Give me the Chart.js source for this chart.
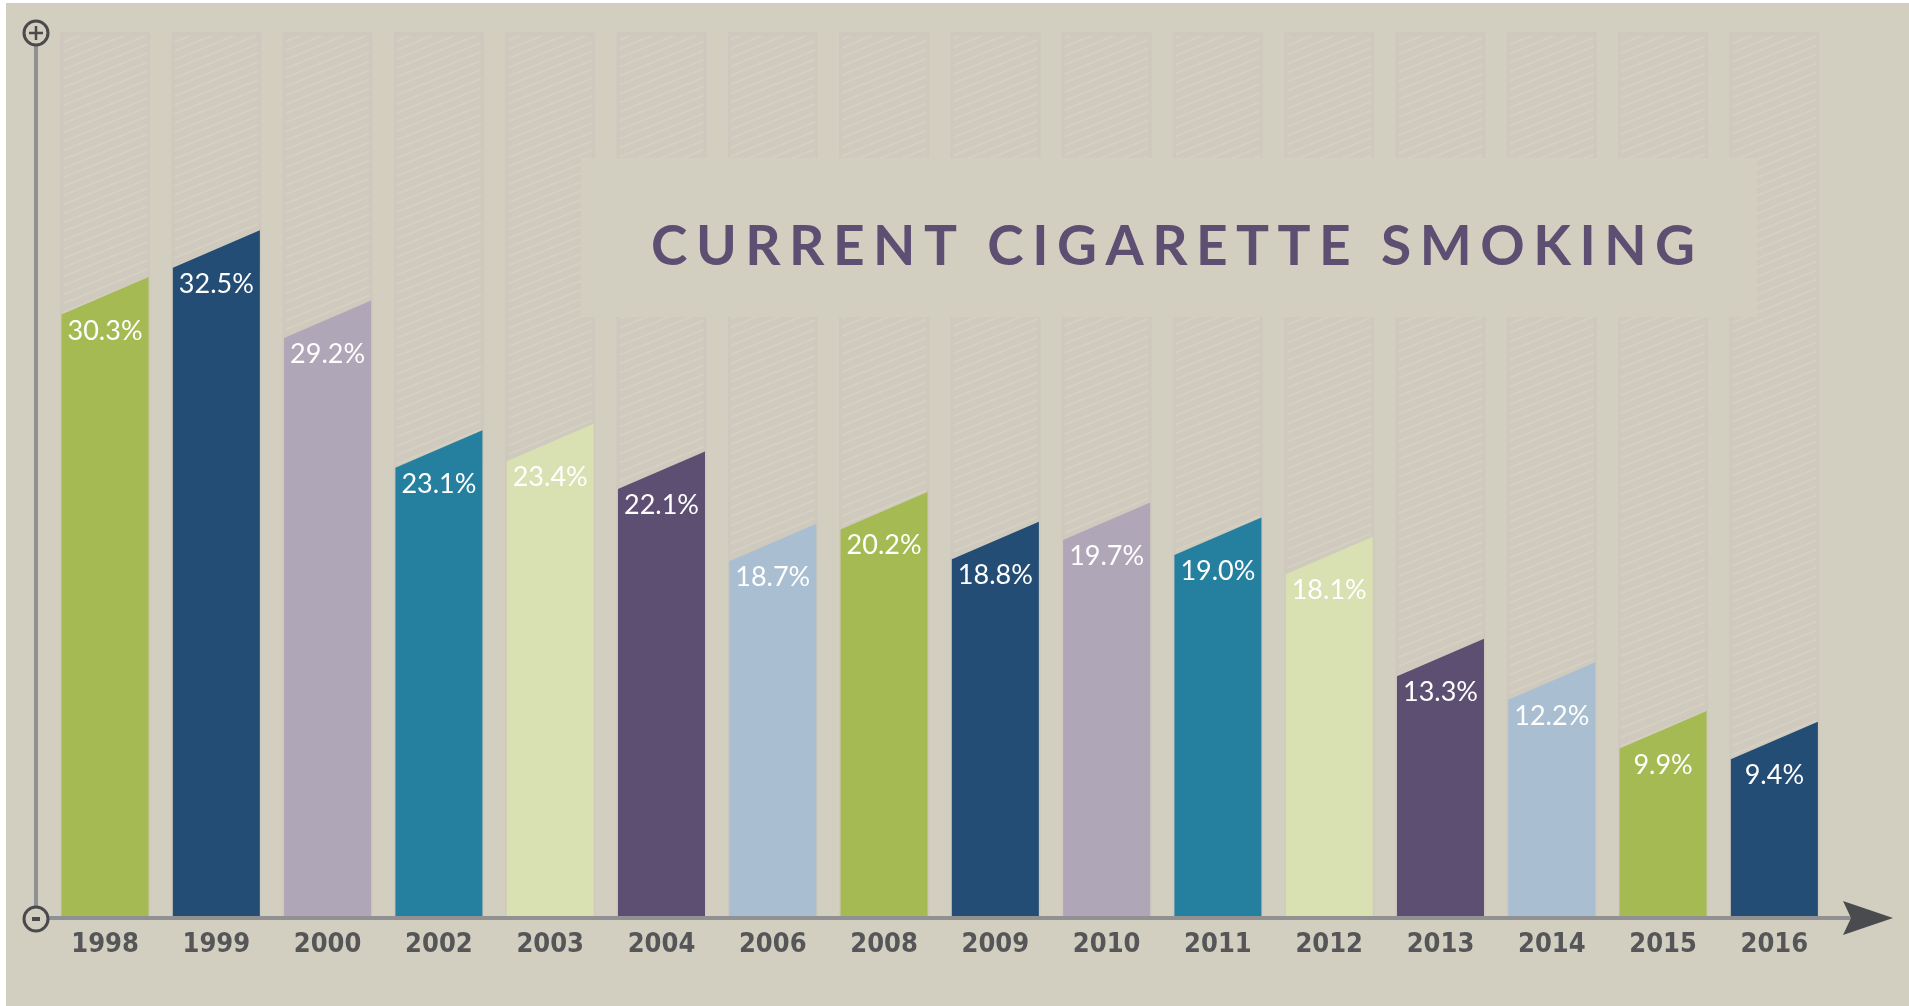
<!DOCTYPE html>
<html>
<head>
<meta charset="utf-8">
<title>Current Cigarette Smoking</title>
<script src="https://cdn.jsdelivr.net/npm/chart.js@4.4.1/dist/chart.umd.min.js"></script>
<style>
  html, body { margin: 0; padding: 0; background: #fff; overflow: hidden; }
  #wrap { position: absolute; left: 6px; top: 3px; width: 1903px; height: 1003px; background: #D2CEC0; }
</style>
</head>
<body>
<div id="wrap"><canvas id="smoking"></canvas></div>
<script>
const years = ['1998', '1999', '2000', '2002', '2003', '2004', '2006', '2008',
               '2009', '2010', '2011', '2012', '2013', '2014', '2015', '2016']
const rates = [30.3, 32.5, 29.2, 23.1, 23.4, 22.1, 18.7, 20.2,
               18.8, 19.7, 19.0, 18.1, 13.3, 12.2, 9.9, 9.4]
const palette = ['#A6BA53', '#234D74', '#AFA6B8', '#25809F', '#D9E0B2', '#5C4F72', '#A9BED0']
const title = 'CURRENT CIGARETTE SMOKING'

const yMin = 1.15
const yMax = 42.7
const bg = '#D2CEC0'
const slant = 18.75   // half the drop of the bar's slanted top, px

// diagonal stripe fill for the empty tracks behind each bar
const stripes = (() => {
    const tile = document.createElement('canvas')
    tile.width = 22
    tile.height = 9
    const t = tile.getContext('2d')
    t.fillStyle = '#CFCABD'
    t.fillRect(0, 0, 22, 9)
    t.strokeStyle = '#D4D0C3'
    t.lineWidth = 2
    for (let j = -1; j <= 1; j++) {
        t.beginPath()
        t.moveTo(-22, 18 + j * 9)
        t.lineTo(44, -9 + j * 9)
        t.stroke()
    }
    return t.createPattern(tile, 'repeat')
})()

const infographic = {
    id: 'infographic',
    beforeDatasetsDraw(chart) {
        const { ctx, chartArea } = chart
        const meta = chart.getDatasetMeta(0)
        ctx.save()
        // tracks
        meta.data.forEach(el => {
            const w = el.width * 90 / 87
            ctx.fillStyle = '#CEC8BE'
            ctx.fillRect(el.x - w / 2, chartArea.top, w, chartArea.bottom - chartArea.top)
            ctx.fillStyle = stripes
            ctx.fillRect(el.x - w / 2 + 3, chartArea.top + 4, w - 6, chartArea.bottom - chartArea.top - 4)
        })
        // title panel
        ctx.fillStyle = bg
        ctx.fillRect(575, 155, 1176, 159)
        ctx.fillStyle = '#5C4F72'
        ctx.font = 'bold 55px Lato'
        ctx.textBaseline = 'alphabetic'
        ctx.textAlign = 'left'
        const chars = title.split('')
        const widths = chars.map(c => ctx.measureText(c).width)
        const natural = widths.reduce((a, b) => a + b, 0)
        const gap = (1044 - natural) / (chars.length - 1)
        let x = 645
        chars.forEach((c, i) => {
            ctx.fillText(c, x, 262)
            x += widths[i] + gap
        })
        ctx.restore()
    },
    beforeDatasetDraw(chart, args) {
        const { ctx, chartArea } = chart
        const meta = args.meta
        ctx.save()
        meta.data.forEach((el, i) => {
            const l = el.x - el.width / 2
            const r = el.x + el.width / 2
            const b = Math.min(el.base, chartArea.bottom)
            ctx.fillStyle = palette[i % palette.length]
            ctx.beginPath()
            ctx.moveTo(l, b)
            ctx.lineTo(l, el.y + slant)
            ctx.lineTo(r, el.y - slant)
            ctx.lineTo(r, b)
            ctx.closePath()
            ctx.fill()
        })
        ctx.fillStyle = '#fff'
        ctx.font = '27px Lato'
        ctx.textAlign = 'center'
        ctx.textBaseline = 'alphabetic'
        meta.data.forEach((el, i) => {
            ctx.fillText(rates[i].toFixed(1) + '%', el.x, el.y + slant + 25)
        })
        ctx.restore()
        return false
    },
    afterDatasetsDraw(chart) {
        const { ctx, chartArea, scales } = chart
        const ax = chartArea.left - 13.4
        const ay = chartArea.bottom + 2
        ctx.save()
        // axis lines
        ctx.strokeStyle = '#919194'
        ctx.lineWidth = 4
        ctx.beginPath()
        ctx.moveTo(ax, chartArea.top + 14)
        ctx.lineTo(ax, ay - 10)
        ctx.moveTo(ax + 10, ay)
        ctx.lineTo(1846, ay)
        ctx.stroke()
        // arrow head
        ctx.fillStyle = '#4A4B4F'
        ctx.beginPath()
        ctx.moveTo(1887, ay)
        ctx.lineTo(1837, ay - 17)
        ctx.lineTo(1845, ay)
        ctx.lineTo(1837, ay + 17)
        ctx.closePath()
        ctx.fill()
        // plus / minus end caps
        ctx.strokeStyle = '#4A4A4D'
        ctx.lineWidth = 3
        ctx.fillStyle = bg
        const py = chartArea.top + 1
        ctx.beginPath(); ctx.arc(ax, py, 12, 0, Math.PI * 2); ctx.fill(); ctx.stroke()
        ctx.lineWidth = 2.5
        ctx.beginPath()
        ctx.moveTo(ax - 7, py); ctx.lineTo(ax + 7, py)
        ctx.moveTo(ax, py - 7); ctx.lineTo(ax, py + 7)
        ctx.stroke()
        ctx.lineWidth = 3
        ctx.beginPath(); ctx.arc(ax, ay + 1, 12, 0, Math.PI * 2); ctx.fill(); ctx.stroke()
        ctx.fillStyle = '#4A4A4D'
        ctx.fillRect(ax - 4, ay - 1, 8, 4)
        // year labels
        ctx.fillStyle = '#565659'
        ctx.font = "bold 27px 'Liberation Sans Narrow', 'DejaVu Sans Condensed', sans-serif"
        ctx.textAlign = 'center'
        ctx.textBaseline = 'alphabetic'
        years.forEach((y, i) => {
            ctx.fillText(y, scales.x.getPixelForValue(i), chartArea.bottom + 36)
        })
        ctx.restore()
    }
}

const ctx = document.getElementById('smoking')

let chart = new Chart(ctx, {
    type: 'bar',
    data: {
        labels: years,
        datasets: [{
            label: 'Current cigarette smoking',
            data: rates,
            base: yMin,
            backgroundColor: years.map((_, i) => palette[i % palette.length]),
            barPercentage: 0.782,
            categoryPercentage: 1
        }]
    },
    options: {
        responsive: true,
        maintainAspectRatio: false,
        animation: false,
        layout: { padding: { left: 43.4, right: 79, top: 29, bottom: 90 } },
        scales: {
            x: { display: false },
            y: { display: false, min: yMin, max: yMax }
        },
        plugins: {
            legend: { display: false },
            tooltip: { enabled: false }
        }
    },
    plugins: [infographic]
});
</script>
</body>
</html>
